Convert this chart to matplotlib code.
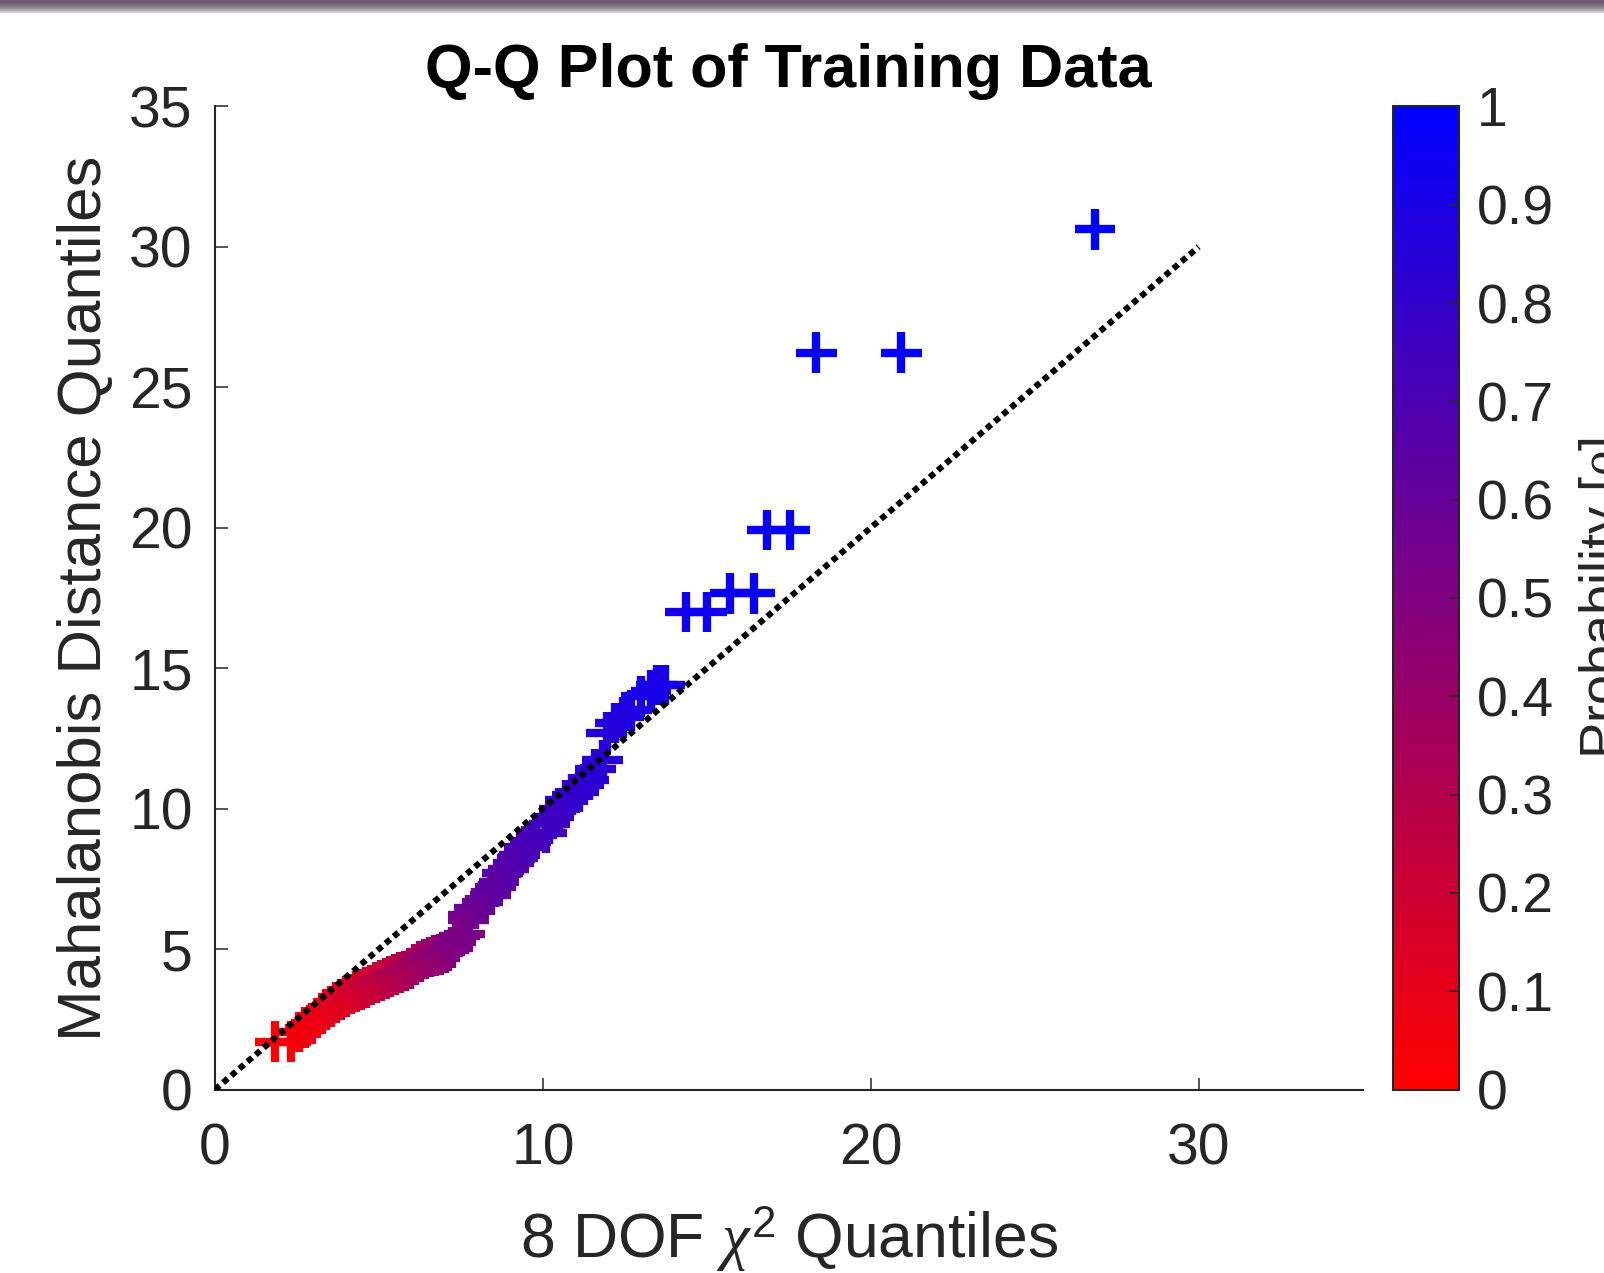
import matplotlib
matplotlib.use("Agg")
import matplotlib.pyplot as plt
import numpy as np
from matplotlib.colors import LinearSegmentedColormap

# Q-Q data
chi2_quantiles = [1.83, 2.31, 2.55, 2.75, 2.95, 3.10, 3.25, 3.40, 3.55, 3.70,
                  3.85, 4.00, 4.15, 4.30, 4.45, 4.60, 4.75, 4.90, 5.05, 5.20,
                  5.35, 5.50, 5.65, 5.80, 5.95, 6.10, 6.25, 6.40, 6.55, 6.70,
                  6.85, 7.00, 7.12, 7.24, 7.35, 7.45, 7.61, 7.73, 7.74, 7.92,
                  8.15, 8.41, 8.55, 8.66, 8.76, 8.95, 9.10, 9.22, 9.29, 9.45,
                  9.63, 9.80, 10.10, 10.20, 10.34, 10.50, 10.70, 10.90, 11.10, 11.25,
                  11.41, 11.60, 11.82, 11.95, 12.20, 12.45, 12.70, 13.00, 13.30, 13.47,
                  13.71, 14.36, 15.00, 15.71, 16.45, 16.84, 17.53, 18.34, 20.93, 26.84]
mahal_quantiles = [1.70, 1.70, 2.05, 2.20, 2.35, 2.55, 2.70, 2.85, 2.95, 3.10,
                   3.20, 3.30, 3.40, 3.48, 3.56, 3.64, 3.72, 3.80, 3.88, 3.95,
                   4.02, 4.10, 4.16, 4.22, 4.30, 4.45, 4.55, 4.65, 4.72, 4.76,
                   4.80, 4.88, 4.95, 5.05, 5.25, 5.45, 5.55, 6.03, 6.21, 6.45,
                   6.69, 6.92, 7.22, 7.40, 7.70, 7.85, 8.05, 8.25, 8.35, 8.64,
                   8.80, 9.06, 9.13, 9.45, 9.71, 10.00, 10.30, 10.50, 10.60, 10.85,
                   11.02, 11.40, 11.73, 12.70, 13.05, 13.25, 13.50, 14.00, 14.20, 14.40,
                   14.40, 17.00, 17.00, 17.66, 17.66, 19.92, 19.92, 26.23, 26.23, 30.63]
probability = [0.014, 0.030, 0.041, 0.051, 0.063, 0.072, 0.083, 0.094, 0.104, 0.115,
               0.127, 0.143, 0.156, 0.171, 0.185, 0.200, 0.215, 0.231, 0.247, 0.264,
               0.281, 0.297, 0.314, 0.331, 0.348, 0.364, 0.381, 0.398, 0.414, 0.431,
               0.447, 0.463, 0.476, 0.488, 0.500, 0.510, 0.527, 0.539, 0.540, 0.559,
               0.581, 0.605, 0.618, 0.628, 0.637, 0.654, 0.666, 0.676, 0.681, 0.694,
               0.708, 0.720, 0.742, 0.748, 0.757, 0.767, 0.780, 0.792, 0.803, 0.811,
               0.818, 0.828, 0.839, 0.847, 0.857, 0.866, 0.876, 0.888, 0.897, 0.902,
               0.910, 0.927, 0.941, 0.953, 0.963, 0.968, 0.975, 0.981, 0.993, 0.9993]

ref_line = [0, 30]
x_ticks = [0, 10, 20, 30]
y_ticks = [0, 5, 10, 15, 20, 25, 30, 35]
cbar_ticks = [0, 0.1, 0.2, 0.3, 0.4, 0.5, 0.6, 0.7, 0.8, 0.9, 1]
cbar_labels = ["0", "0.1", "0.2", "0.3", "0.4", "0.5", "0.6", "0.7", "0.8", "0.9", "1"]

plt.rcParams['font.family'] = ['Liberation Sans', 'DejaVu Sans']
plt.rcParams['mathtext.fontset'] = 'custom'
plt.rcParams['mathtext.rm'] = 'Liberation Sans'
plt.rcParams['mathtext.it'] = 'Liberation Serif:italic'

W, H = 1604, 1273
fig = plt.figure(figsize=(W / 100, H / 100), dpi=100)
fig.patch.set_facecolor('white')

grey = '#262626'
red_blue = LinearSegmentedColormap.from_list('rb', [(1, 0, 0), (0, 0, 1)])

# main axes (pixel box)
ax = fig.add_axes([215 / W, 1 - 1089.5 / H, 1147.6 / W, 983.1 / H])
ax.plot(ref_line, ref_line, color='black', lw=4.4, dashes=(1, 0.75),
        dash_capstyle='butt', zorder=3)
sc = ax.scatter(chi2_quantiles, mahal_quantiles, c=probability, cmap=red_blue,
                vmin=0, vmax=1, marker='+', s=860, linewidths=6.0, zorder=2)

ax.set_xlim(0, 35)
ax.set_ylim(0, 35)
ax.set_xticks(x_ticks)
ax.set_yticks(y_ticks)
for side in ['top', 'right']:
    ax.spines[side].set_visible(False)
for side in ['left', 'bottom']:
    ax.spines[side].set_color(grey)
    ax.spines[side].set_linewidth(1.5)
ax.tick_params(axis='both', direction='in', length=9, width=1.1, colors=grey,
               labelsize=41)
ax.tick_params(axis='x', pad=24)
ax.tick_params(axis='y', pad=16)

ax.set_title('Q-Q Plot of Training Data', fontsize=44, fontweight='bold',
             pad=14, color='black')
ax.set_xlabel(r'8 DOF $\chi^{\mathrm{2}}$ Quantiles', fontsize=45, color=grey,
              labelpad=20)
ax.set_ylabel('Mahalanobis Distance Quantiles', fontsize=44.5, color=grey,
              labelpad=11)

# colorbar
cax = fig.add_axes([1393 / W, 1 - 1089.5 / H, 66 / W, 983.1 / H])
cb = fig.colorbar(sc, cax=cax)
cb.set_ticks(cbar_ticks)
cb.set_ticklabels(cbar_labels)
cb.outline.set_edgecolor(grey)
cb.outline.set_linewidth(1.5)
cax.tick_params(direction='in', length=7, width=1.1, colors=grey, labelsize=40,
                pad=13)
fig.text(1577 / W, 1 - 598 / H, r'Probability [$\rho$]', rotation=90,
         ha='left', va='center', fontsize=39, color=grey)

# thin purple-grey strip along the top edge (screenshot border)
strip = fig.add_axes([0, 1 - 13 / H, 1, 13 / H])
top_c = np.array([0.44, 0.35, 0.44])
grad = np.linspace(0, 1, 13)[:, None, None]
strip_img = top_c * (1 - grad ** 2) + np.array([0.85, 0.85, 0.85]) * grad ** 2
strip.imshow(np.repeat(strip_img, 4, axis=1), aspect='auto')
strip.axis('off')

fig.savefig('out.png', dpi=100)
